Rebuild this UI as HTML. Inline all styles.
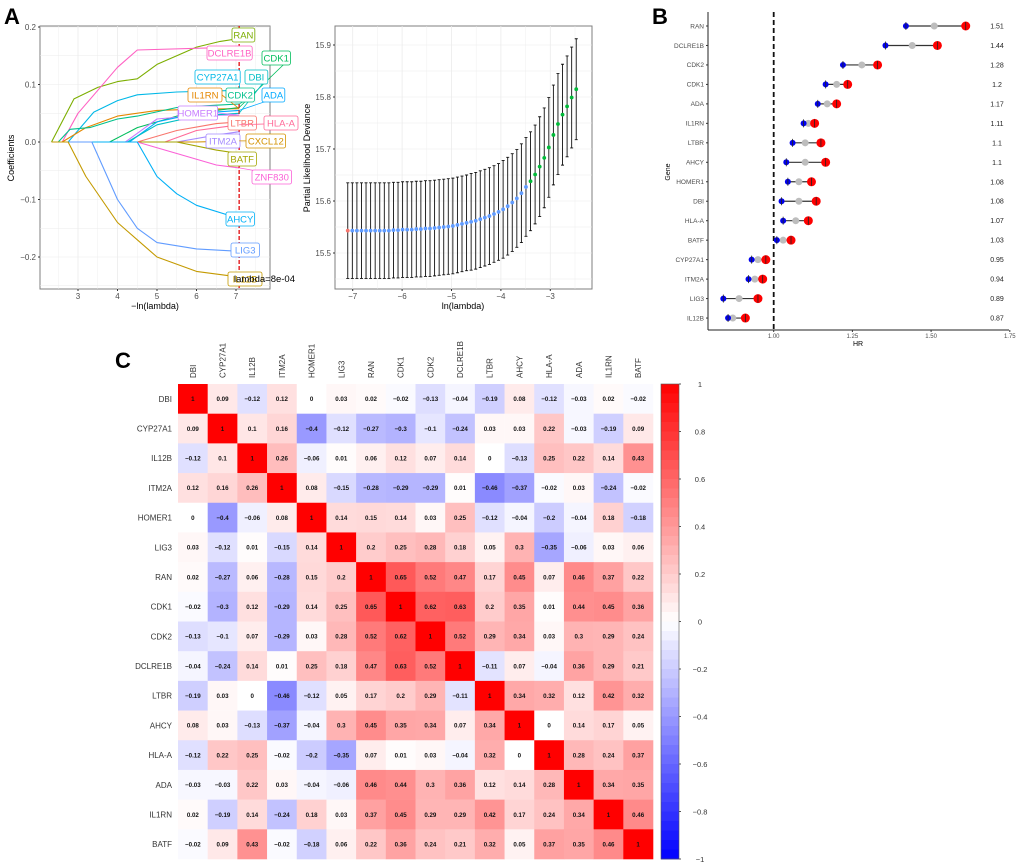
<!DOCTYPE html>
<html><head><meta charset="utf-8">
<style>
html,body{margin:0;padding:0;background:#fff;}
svg{display:block;font-family:"Liberation Sans",Arial,sans-serif;}
</style></head>
<body>
<svg id="fig" width="1020" height="866" viewBox="0 0 1020 866">
  <text x="4" y="24" font-size="22" font-weight="bold">A</text>
  <text x="652" y="24" font-size="22" font-weight="bold">B</text>
  <text x="115" y="368" font-size="22" font-weight="bold">C</text>
  <g id="pa1"></g>
  <g id="pa2"></g>
  <g id="pb"></g>
  <g id="pc"></g>
</svg>
<script>
// ---------- Panel A left: coefficient paths ----------
const pathGenes = ["RAN","DCLRE1B","CYP27A1","IL1RN","CDK2","CDK1","HOMER1","ADA","DBI","LTBR","HLA-A","ITM2A","CXCL12","BATF","ZNF830","AHCY","LIG3","IL12B"];
const pathColors = ["#7cae00","#ff61c3","#00b8e7","#e58700","#00c08b","#00bd5c","#c77cff","#00a9ff","#00bfc4","#f8766d","#ff6a98","#a58aff","#d39200","#a3a500","#fb61d7","#00b0f6","#619cff","#c49a00"];
const pathLambda = [
 [2.33,2.9,3.5,4,4.5,5,6,6.6,7.08],
 [2.6,3,3.5,4,4.5,7.08],
 [2.75,3.4,4,4.5,5.5,7.08],
 [2.6,3.2,4,5,6,7.08],
 [2.5,2.8,3.3,4,4.5,5.5,6.5,7.08],
 [3.8,4.5,5.5,6.5,7.08],
 [4.2,5,6,7.08],
 [4.3,5,6,7.08],
 [4.25,5,6,7.08],
 [4.5,5.5,6.5,7.08],
 [5.2,6,7.08],
 [5.5,6.5,7.08],
 [6,7.08],
 [5.5,6.5,7.08],
 [4.5,5.5,6.5,7.08],
 [4.5,5,5.5,6,7.08],
 [3.35,4,4.5,5,6,7.08],
 [2.75,3.2,4,4.5,5,6,7.08]
];
const pathCoef = [
 [0,0.075,0.095,0.105,0.11,0.135,0.165,0.175,0.18],
 [0,0.05,0.09,0.13,0.16,0.165],
 [0,0.052,0.072,0.082,0.087,0.09],
 [0,0.025,0.045,0.055,0.057,0.058],
 [0,0.022,0.025,0.04,0.045,0.06,0.064,0.066],
 [0,0.025,0.045,0.055,0.06],
 [0,0.04,0.046,0.047],
 [0,0.035,0.05,0.055],
 [0,0.03,0.045,0.05],
 [0,0.02,0.032,0.035],
 [0,0.02,0.03],
 [0,0.012,0.018],
 [0,0.002],
 [0,-0.014,-0.02],
 [0,-0.02,-0.04,-0.045],
 [0,-0.06,-0.09,-0.11,-0.133],
 [0,-0.1,-0.15,-0.175,-0.186,-0.19],
 [0,-0.06,-0.14,-0.17,-0.2,-0.225,-0.235]
];
const labelGenes = ["RAN","DCLRE1B","CDK1","CYP27A1","DBI","IL1RN","CDK2","ADA","HOMER1","LTBR","HLA-A","ITM2A","CXCL12","BATF","ZNF830","AHCY","LIG3","IL12B"];
const labelX = [232,207,262,195,245,188,226,262,178,228,264,206,246,228,252,226,231,228];
const labelY = [35,53,58,77,77,95,95,95,113,123,123,141,141,159,177,219,250,279];
const coefXTicks = [3,4,5,6,7];
const coefYTicks = [-0.2,-0.1,0,0.1,0.2];
const lambdaMin = 7.08;

// ---------- Panel A right: CV deviance ----------
const cvMean = [15.543,15.543,15.543,15.543,15.543,15.543,15.543,15.543,15.543,15.543,
 15.544,15.544,15.545,15.545,15.545,15.546,15.546,15.547,15.547,15.548,
 15.549,15.550,15.551,15.552,15.554,15.556,15.558,15.560,15.562,15.565,
 15.568,15.571,15.575,15.579,15.584,15.590,15.597,15.605,15.615,15.627,
 15.638,15.651,15.666,15.683,15.703,15.727,15.748,15.766,15.782,15.799,15.815];
const cvSe = [0.092,0.092,0.092,0.092,0.092,0.092,0.092,0.092,0.092,0.092,
 0.092,0.092,0.092,0.092,0.092,0.092,0.092,0.092,0.092,0.092,
 0.092,0.092,0.092,0.092,0.092,0.092,0.092,0.093,0.093,0.093,
 0.093,0.093,0.093,0.093,0.094,0.094,0.094,0.094,0.095,0.095,
 0.095,0.095,0.096,0.096,0.096,0.096,0.097,0.097,0.097,0.097,0.097];
const cvLambdaStart = -7.1, cvLambdaStep = 0.0925;
const cvXTicks = [-7,-6,-5,-4,-3];
const cvYTicks = [15.5,15.6,15.7,15.8,15.9];

// ---------- Panel B: forest ----------
const hrGenes = ["RAN","DCLRE1B","CDK2","CDK1","ADA","IL1RN","LTBR","AHCY","HOMER1","DBI","HLA-A","BATF","CYP27A1","ITM2A","LIG3","IL12B"];
const hrValue = [1.51,1.44,1.28,1.2,1.17,1.11,1.1,1.1,1.08,1.08,1.07,1.03,0.95,0.94,0.89,0.87];
const hrLower = [1.42,1.355,1.22,1.165,1.14,1.095,1.06,1.04,1.045,1.025,1.03,1.01,0.93,0.92,0.84,0.855];
const hrUpper = [1.61,1.52,1.33,1.235,1.20,1.13,1.15,1.165,1.12,1.135,1.11,1.055,0.975,0.965,0.95,0.91];
const hrLabels = ["1.51","1.44","1.28","1.2","1.17","1.11","1.1","1.1","1.08","1.08","1.07","1.03","0.95","0.94","0.89","0.87"];
const hrTicks = [1.00,1.25,1.50,1.75];

// ---------- Panel C: correlation ----------
const corrGenes = ["DBI","CYP27A1","IL12B","ITM2A","HOMER1","LIG3","RAN","CDK1","CDK2","DCLRE1B","LTBR","AHCY","HLA-A","ADA","IL1RN","BATF"];
const corrValues = [
 [1,0.09,-0.12,0.12,0,0.03,0.02,-0.02,-0.13,-0.04,-0.19,0.08,-0.12,-0.03,0.02,-0.02],
 [0.09,1,0.1,0.16,-0.4,-0.12,-0.27,-0.3,-0.1,-0.24,0.03,0.03,0.22,-0.03,-0.19,0.09],
 [-0.12,0.1,1,0.26,-0.06,0.01,0.06,0.12,0.07,0.14,0,-0.13,0.25,0.22,0.14,0.43],
 [0.12,0.16,0.26,1,0.08,-0.15,-0.28,-0.29,-0.29,0.01,-0.46,-0.37,-0.02,0.03,-0.24,-0.02],
 [0,-0.4,-0.06,0.08,1,0.14,0.15,0.14,0.03,0.25,-0.12,-0.04,-0.2,-0.04,0.18,-0.18],
 [0.03,-0.12,0.01,-0.15,0.14,1,0.2,0.25,0.28,0.18,0.05,0.3,-0.35,-0.06,0.03,0.06],
 [0.02,-0.27,0.06,-0.28,0.15,0.2,1,0.65,0.52,0.47,0.17,0.45,0.07,0.46,0.37,0.22],
 [-0.02,-0.3,0.12,-0.29,0.14,0.25,0.65,1,0.62,0.63,0.2,0.35,0.01,0.44,0.45,0.36],
 [-0.13,-0.1,0.07,-0.29,0.03,0.28,0.52,0.62,1,0.52,0.29,0.34,0.03,0.3,0.29,0.24],
 [-0.04,-0.24,0.14,0.01,0.25,0.18,0.47,0.63,0.52,1,-0.11,0.07,-0.04,0.36,0.29,0.21],
 [-0.19,0.03,0,-0.46,-0.12,0.05,0.17,0.2,0.29,-0.11,1,0.34,0.32,0.12,0.42,0.32],
 [0.08,0.03,-0.13,-0.37,-0.04,0.3,0.45,0.35,0.34,0.07,0.34,1,0,0.14,0.17,0.05],
 [-0.12,0.22,0.25,-0.02,-0.2,-0.35,0.07,0.01,0.03,-0.04,0.32,0,1,0.28,0.24,0.37],
 [-0.03,-0.03,0.22,0.03,-0.04,-0.06,0.46,0.44,0.3,0.36,0.12,0.14,0.28,1,0.34,0.35],
 [0.02,-0.19,0.14,-0.24,0.18,0.03,0.37,0.45,0.29,0.29,0.42,0.17,0.24,0.34,1,0.46],
 [-0.02,0.09,0.43,-0.02,-0.18,0.06,0.22,0.36,0.24,0.21,0.32,0.05,0.37,0.35,0.46,1]
];
const colorbarTicks = [1,0.8,0.6,0.4,0.2,0,-0.2,-0.4,-0.6,-0.8,-1];

const NS = "http://www.w3.org/2000/svg";
function mk(parent, tag, attrs, text){
  const e = document.createElementNS(NS, tag);
  for (const k in attrs) e.setAttribute(k, attrs[k]);
  if (text !== undefined) e.textContent = text;
  parent.appendChild(e);
  return e;
}
function fmt(v){ return String(v).replace("-", "\u2212"); }

// ===== Panel A left =====
(function(){
  const g = document.getElementById("pa1");
  const L=40, R=270, T=26, B=289;
  const sx = v => 78 + (v-3)*39.5;
  const sy = v => 142 - v*575;
  const bg = mk(g,"rect",{x:L,y:T,width:R-L,height:B-T,fill:"#fff",stroke:"#7f7f7f","stroke-width":1});
  
  
  for (let v=2.5; v<=7.5; v+=0.5){ const x=sx(v); if(x>L&&x<R) mk(g,"line",{x1:x,x2:x,y1:T,y2:B,stroke:"#ebebeb","stroke-width":v%1===0?0.8:0.4}); }
  for (let v=-0.25; v<=0.2; v+=0.05){ const y=sy(v); if(y>T&&y<B) mk(g,"line",{x1:L,x2:R,y1:y,y2:y,stroke:"#ebebeb","stroke-width":0.6}); }
  coefXTicks.forEach(v=>{ const t=mk(g,"text",{x:sx(v),y:B+10,"font-size":8,fill:"#4d4d4d","text-anchor":"middle"},String(v));
     
    mk(g,"line",{x1:sx(v),x2:sx(v),y1:B,y2:B+2,stroke:"#333"}); });
  coefYTicks.forEach(v=>{ const t=mk(g,"text",{x:L-4,y:sy(v)+3,"font-size":8,fill:"#4d4d4d","text-anchor":"end"},fmt(v===0?"0.0":v.toFixed(1)));
     
    mk(g,"line",{x1:L-2,x2:L,y1:sy(v),y2:sy(v),stroke:"#333"}); });
  const xt = mk(g,"text",{x:155,y:309,"font-size":9,"text-anchor":"middle"},"\u2212ln(lambda)");
   
  const yt = mk(g,"text",{x:14,y:158,"font-size":9,"text-anchor":"middle",transform:"rotate(-90 14 158)"},"Coefficients");
   
  const ends = {};
  pathGenes.forEach((gn,i)=>{
    const xs = pathLambda[i], ys = pathCoef[i];
    let d = "M"+sx(2.33)+","+sy(0)+" L"+sx(xs[0])+","+sy(ys[0]);
    for (let k=1;k<xs.length;k++) d += " L"+sx(xs[k]).toFixed(1)+","+sy(ys[k]).toFixed(1);
    const p = mk(g,"path",{d:d,fill:"none",stroke:pathColors[i],"stroke-width":1.1,"stroke-linejoin":"round"});
    
    
    ends[gn] = {x:sx(xs[xs.length-1]), y:sy(ys[ys.length-1]), c:pathColors[i]};
  });
  const vl = mk(g,"line",{x1:sx(lambdaMin),x2:sx(lambdaMin),y1:T,y2:B,stroke:"#e41a1c","stroke-width":1.4,"stroke-dasharray":"4,2"});
   
  labelGenes.forEach((gn,i)=>{
    const e = ends[gn]; const w = gn.length*5.6+6; const x=labelX[i], y=labelY[i];
    mk(g,"line",{x1:x+w,x2:e.x,y1:y,y2:e.y,stroke:e.c,"stroke-width":0.8});
    const r = mk(g,"rect",{x:x,y:y-7,width:w,height:14,rx:2,fill:"#fff",stroke:e.c,"stroke-width":0.8});
     
    const t = mk(g,"text",{x:x+w/2,y:y+3.5,"font-size":9.5,fill:e.c,"text-anchor":"middle"},gn);
     
  });
  const lt = mk(g,"text",{x:234,y:282,"font-size":9.5,fill:"#000"},"lambda=8e-04");
   
})();

// ===== Panel A right =====
(function(){
  const g = document.getElementById("pa2");
  const L=335, R=592, T=26, B=289;
  const sx = v => 352.7 + (v+7)*49.4;
  const sy = v => 253 - (v-15.5)*520;
  const bg = mk(g,"rect",{x:L,y:T,width:R-L,height:B-T,fill:"#fff",stroke:"#7f7f7f","stroke-width":1});
   
  for (let v=-7.5; v<=-2; v+=0.5){ const x=sx(v); if(x>L&&x<R) mk(g,"line",{x1:x,x2:x,y1:T,y2:B,stroke:"#ebebeb","stroke-width":Number.isInteger(v)?0.8:0.4}); }
  for (let v=15.45; v<=15.95; v+=0.05){ const y=sy(v); if(y>T&&y<B) mk(g,"line",{x1:L,x2:R,y1:y,y2:y,stroke:"#ebebeb","stroke-width":0.6}); }
  cvXTicks.forEach(v=>{ const t=mk(g,"text",{x:sx(v),y:B+10,"font-size":8,fill:"#4d4d4d","text-anchor":"middle"},fmt(v));
     
    mk(g,"line",{x1:sx(v),x2:sx(v),y1:B,y2:B+2,stroke:"#333"}); });
  cvYTicks.forEach(v=>{ const t=mk(g,"text",{x:L-4,y:sy(v)+3,"font-size":8,fill:"#4d4d4d","text-anchor":"end"},v.toFixed(1));
     
    mk(g,"line",{x1:L-2,x2:L,y1:sy(v),y2:sy(v),stroke:"#333"}); });
  const xt = mk(g,"text",{x:463,y:309,"font-size":9,"text-anchor":"middle"},"ln(lambda)");
   
  const yt = mk(g,"text",{x:310,y:158,"font-size":9,"text-anchor":"middle",transform:"rotate(-90 310 158)"},"Partial Likelihood Deviance");
   
  cvMean.forEach((m,i)=>{
    const lam = cvLambdaStart + i*cvLambdaStep; const x = sx(lam);
    const y1 = sy(m+cvSe[i]), y2 = sy(m-cvSe[i]);
    const eb = mk(g,"path",{d:`M${x},${y1}V${y2}M${x-1.5},${y1}H${x+1.5}M${x-1.5},${y2}H${x+1.5}`,stroke:"#111","stroke-width":0.9,fill:"none"});
     
  });
  cvMean.forEach((m,i)=>{
    const lam = cvLambdaStart + i*cvLambdaStep;
    const col = i===0 ? "#f8766d" : (i>=40 ? "#00ba38" : "#619cff");
    const c = mk(g,"circle",{cx:sx(lam),cy:sy(m),r:1.9,fill:col});
     
  });
})();

// ===== Panel B =====
(function(){
  const g = document.getElementById("pb");
  const L=708, B=330, R=1009;
  const sx = v => 773.7 + (v-1)*314.8;
  const sy = i => 26 + i*19.47;
  mk(g,"line",{x1:L,x2:L,y1:12,y2:B,stroke:"#222","stroke-width":1});
  mk(g,"line",{x1:L,x2:R,y1:B,y2:B,stroke:"#222","stroke-width":1});
  const vl = mk(g,"line",{x1:sx(1),x2:sx(1),y1:12,y2:B,stroke:"#111","stroke-width":1.8,"stroke-dasharray":"5,3"});
   
  hrTicks.forEach(v=>{ mk(g,"line",{x1:sx(v),x2:sx(v),y1:B,y2:B+2,stroke:"#333"});
    const t=mk(g,"text",{x:sx(v),y:B+8,"font-size":6,fill:"#4d4d4d","text-anchor":"middle"},v.toFixed(2));
      });
  const xt = mk(g,"text",{x:858,y:346,"font-size":7,"text-anchor":"middle"},"HR");
   
  const yt = mk(g,"text",{x:670,y:172,"font-size":7,"text-anchor":"middle",transform:"rotate(-90 670 172)"},"Gene");
   
  hrGenes.forEach((gn,i)=>{
    const y = sy(i);
    mk(g,"line",{x1:L-2,x2:L,y1:y,y2:y,stroke:"#333"});
    const t=mk(g,"text",{x:L-4,y:y+2.3,"font-size":6.5,fill:"#4d4d4d","text-anchor":"end"},gn);
     
    const ln = mk(g,"line",{x1:sx(hrLower[i]),x2:sx(hrUpper[i]),y1:y,y2:y,stroke:"#333","stroke-width":1.2});
     
    const gp = mk(g,"circle",{cx:sx(hrValue[i]),cy:y,r:3.5,fill:"#bdbdbd"});
     
    const lo = mk(g,"circle",{cx:sx(hrLower[i]),cy:y,r:3,fill:"#0000ee"});
     
    mk(g,"line",{x1:sx(hrLower[i]),x2:sx(hrLower[i]),y1:y-4,y2:y+4,stroke:"#222","stroke-width":0.8});
    const up = mk(g,"circle",{cx:sx(hrUpper[i]),cy:y,r:4.5,fill:"#ff0000"});
     
    mk(g,"line",{x1:sx(hrUpper[i]),x2:sx(hrUpper[i]),y1:y-4,y2:y+4,stroke:"#222","stroke-width":0.8});
    const vt = mk(g,"text",{x:997,y:y+2.5,"font-size":7,fill:"#222","text-anchor":"middle"},hrLabels[i]);
     
  });
})();

// ===== Panel C =====
(function(){
  const g = document.getElementById("pc");
  const X0=178, Y0=384, cw=(653-178)/16, ch=(859-384)/16;
  function col(v){
    if (v>=0){ const c=Math.round(255*(1-v)); return `rgb(255,${c},${c})`; }
    const c=Math.round(255*(1+v)); return `rgb(${c},${c},255)`;
  }
  corrGenes.forEach((gn,i)=>{
    const rl = mk(g,"text",{x:X0-6,y:Y0+ch*i+ch/2+3,"font-size":8,fill:"#333","text-anchor":"end"},gn);
     
    const cx = X0+cw*i+cw/2+3, cy = Y0-6;
    const cl = mk(g,"text",{x:cx,y:cy,"font-size":8,fill:"#333",transform:`rotate(-90 ${cx} ${cy})`},gn);
     
  });
  corrValues.forEach((row,i)=>{
    row.forEach((v,j)=>{
      const r = mk(g,"rect",{x:X0+cw*j,y:Y0+ch*i,width:cw+0.3,height:ch+0.3,fill:col(v)});
       
      const t = mk(g,"text",{x:X0+cw*j+cw/2,y:Y0+ch*i+ch/2+2.3,"font-size":6.2,"font-weight":"bold",fill:"#111","text-anchor":"middle"},fmt(v));
       
    });
  });
  // colorbar
  const cbX=661, cbW=18, cbT=384, cbB=859, n=50;
  for (let k=0;k<n;k++){
    const v = 1 - (k+0.5)*2/n;
    const s = mk(g,"rect",{x:cbX,y:cbT+k*(cbB-cbT)/n,width:cbW,height:(cbB-cbT)/n+0.4,fill:col(v)});
     
  }
  mk(g,"rect",{x:cbX,y:cbT,width:cbW,height:cbB-cbT,fill:"none",stroke:"#555","stroke-width":0.6});
  colorbarTicks.forEach(v=>{
    const y = cbT + (1-v)/2*(cbB-cbT);
    mk(g,"line",{x1:cbX+cbW,x2:cbX+cbW+2,y1:y,y2:y,stroke:"#555"});
    const t = mk(g,"text",{x:700,y:y+3,"font-size":7.5,fill:"#333","text-anchor":"middle"},fmt(v));
     
  });
})();
</script>
</body></html>
